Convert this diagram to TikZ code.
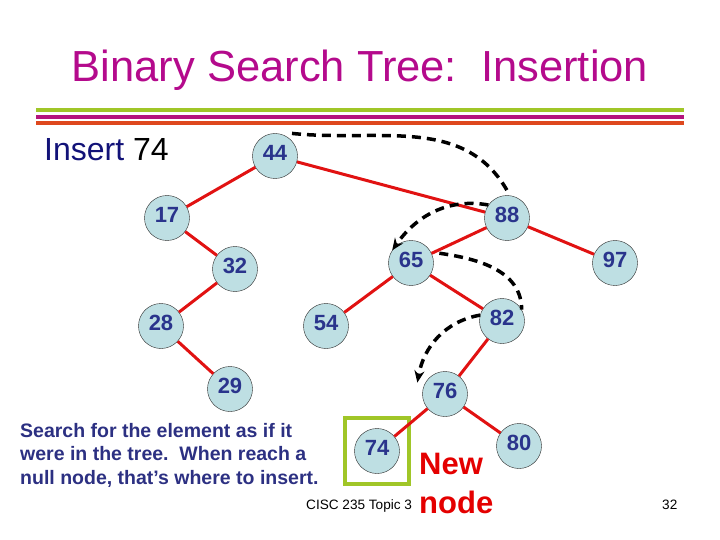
\documentclass[tikz,border=0pt]{standalone}
\usepackage{fontspec}
\setmainfont{Liberation Sans}
\usepackage{xcolor}
\usetikzlibrary{arrows.meta,fit}

\definecolor{ttlmag}{RGB}{180,10,140}
\definecolor{barGreen}{RGB}{160,198,40}
\definecolor{barMag}{RGB}{180,20,125}
\definecolor{barOrange}{RGB}{222,72,30}
\definecolor{ndfill}{RGB}{190,223,227}
\definecolor{ndtext}{RGB}{42,52,140}
\definecolor{edred}{RGB}{225,18,18}
\definecolor{navy}{RGB}{18,18,120}
\definecolor{notetext}{RGB}{44,48,130}
\definecolor{newred}{RGB}{228,0,0}

\begin{document}
\begin{tikzpicture}[x=1pt,y=1pt,
  nd/.style={draw=black!85,circle,fill=ndfill,text=ndtext,inner sep=0pt,minimum size=45pt,
    font=\fontsize{22}{22}\selectfont\bfseries,text height=16pt,text depth=7pt},
  ed/.style={draw=edred,line width=3pt},
  srch/.style={line width=3.5pt,dash pattern=on 9pt off 6pt},
  tip/.style={-{Stealth[length=12pt,width=10pt]}},
  bar/.style={line width=4pt}]
\useasboundingbox (0,0) rectangle (720,-540);

\node[anchor=base,text=ttlmag,font=\fontsize{43.5}{44}\selectfont] (title) at (360,-82)
  {Binary Search Tree:\ \ Insertion};
\draw[bar,barGreen] (36,-110.5) -- (684,-110.5);
\draw[bar,barMag] (36,-117) -- (684,-117);
\draw[bar,barOrange] (36,-123) -- (684,-123);

\node[anchor=base west,inner sep=0pt,font=\fontsize{32}{32}\selectfont] (ins) at (44,-161)
  {\textcolor{navy}{Insert} 74};

\node[nd] (n44) at (275,-156) {44};
\node[nd] (n17) at (167,-218) {17};
\node[nd] (n88) at (507,-218) {88};
\node[nd] (n32) at (235,-269) {32};
\node[nd] (n65) at (411,-263) {65};
\node[nd] (n97) at (615,-263) {97};
\node[nd] (n28) at (161,-326) {28};
\node[nd] (n54) at (326,-326) {54};
\node[nd] (n82) at (502,-321) {82};
\node[nd] (n29) at (230,-389) {29};
\node[nd] (n76) at (445,-394) {76};
\node[nd] (n74) at (377,-451) {74};
\node[nd] (n80) at (519,-446) {80};
\node[draw=barGreen,line width=4pt,fit=(n74),inner xsep=9.5pt,inner ysep=10.5pt] (newbox) {};

\draw[ed] (n44) -- (n17);
\draw[ed] (n44) -- (n88);
\draw[ed] (n17) -- (n32);
\draw[ed] (n32) -- (n28);
\draw[ed] (n28) -- (n29);
\draw[ed] (n88) -- (n65);
\draw[ed] (n88) -- (n97);
\draw[ed] (n65) -- (n54);
\draw[ed] (n65) -- (n82);
\draw[ed] (n82) -- (n76);
\draw[ed] (n76) -- (n74);
\draw[ed] (n76) -- (n80);

\draw[srch] ([shift={(4pt,4pt)}]n44.55) to[out=-6,in=120] ([yshift=5pt]n88.north);
\draw[srch,tip] (n88.145) to[out=170,in=55] (n65.146);
\draw[srch] ([shift={(7pt,2pt)}]n65.20) to[out=-8,in=90] (n82.30);
\draw[srch,tip] (n82.165) to[out=190,in=80] ([xshift=-8pt]n76.150);

\node[anchor=base west,inner sep=0pt,align=left,text=notetext,
  font=\fontsize{19.5}{23.5}\selectfont\bfseries] (note) at (20,-484)
  {Search for the element as if it\\were in the tree.\ \ When reach a\\null node, that’s where to insert.};
\node[anchor=base west,inner sep=0pt,align=left,text=newred,
  font=\fontsize{31}{39}\selectfont\bfseries] (newlbl) at (419,-513) {New\\node};
\node[anchor=base west,inner sep=0pt,font=\fontsize{13.6}{14}\selectfont] (foot) at (306,-509) {CISC 235 Topic 3};
\node[anchor=base west,inner sep=0pt,font=\fontsize{13.6}{14}\selectfont] (pgno) at (662,-509) {32};
\end{tikzpicture}
\end{document}
